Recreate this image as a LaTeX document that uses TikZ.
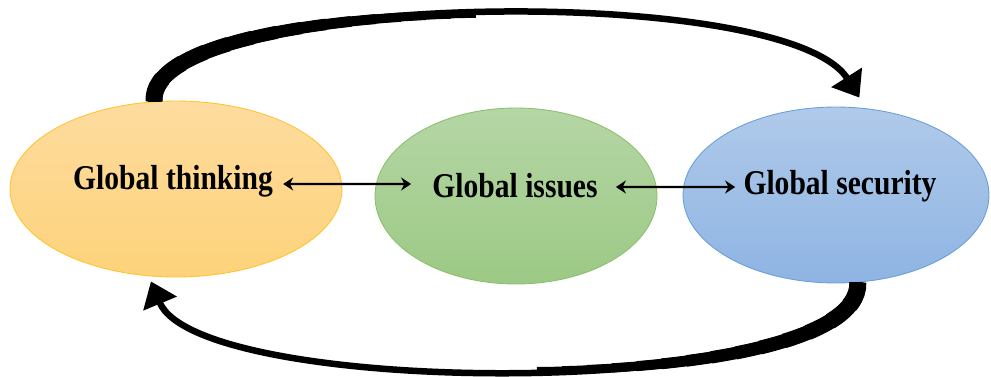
\documentclass[tikz,border=0pt]{standalone}
\usepackage{graphicx}
\usepackage{fontspec}
\setmainfont{Liberation Serif}
\usepackage{tikz}
\usetikzlibrary{shapes.geometric,arrows.meta}
\definecolor{orgtop}{HTML}{FEDC9F}
\definecolor{orgbot}{HTML}{FDD27A}
\definecolor{orgline}{HTML}{FFC533}
\definecolor{grntop}{HTML}{B5D6A5}
\definecolor{grnbot}{HTML}{9CC985}
\definecolor{grnline}{HTML}{8DBF6E}
\definecolor{blutop}{HTML}{B0CAEA}
\definecolor{blubot}{HTML}{8EB4E3}
\definecolor{bluline}{HTML}{6A9FD8}
\tikzstyle{blob} = [ellipse, draw, line width=0.5pt, minimum height=3.52cm]
\tikzstyle{lbl} = [inner sep=0pt, text height=13.1pt, text depth=0pt, font=\fontsize{19.8}{22}\selectfont\bfseries]
\tikzstyle{dbl} = [{Stealth[length=0.2cm,width=0.26cm]}-{Stealth[length=0.2cm,width=0.26cm]}, line width=0.045cm]
\tikzstyle{bigarrow} = [-{Triangle[length=0.48cm,width=0.7cm]}, line width=0.13cm]
\newcommand{\squeeze}[1]{\scalebox{0.85}[1]{#1}}

\begin{document}
\begin{tikzpicture}[x=0.02cm,y=-0.02cm]
  \useasboundingbox (0,0) rectangle (991,376);
  \node[blob, minimum width=6.64cm, draw=orgline, top color=orgtop, bottom color=orgbot] (E_think) at (176,189) {};
  \node[blob, minimum width=5.64cm, draw=grnline, top color=grntop, bottom color=grnbot] (E_iss) at (516,196) {};
  \node[blob, minimum width=6.12cm, draw=bluline, top color=blutop, bottom color=blubot] (E_sec) at (836,195) {};
  \node[lbl] (T_think) at (173,178) {\squeeze{Global thinking}};
  \node[lbl] (T_iss) at (515,186) {\squeeze{Global issues}};
  \node[lbl] (T_sec) at (840,183) {\squeeze{Global security}};

  \path ([xshift=0.2cm,yshift=-0.12cm]T_think.east) edge[dbl] ([xshift=-0.42cm,yshift=0.04cm]T_iss.west);
  \path ([xshift=0.36cm,yshift=-0.02cm]T_iss.east) edge[dbl] ([xshift=-0.16cm,yshift=-0.08cm]T_sec.west);

  % curved arrows, thick at the tail
  \draw[bigarrow] (E_think.104) .. controls (146,-8) and (785,-20) .. ([yshift=0.2cm]E_sec.75);
  \draw[bigarrow] (E_sec.284) .. controls (862,400) and (200,400) .. ([yshift=-0.1cm]E_think.254);
  \foreach \i in {0,...,13}
  {
    \pgfmathsetmacro{\w}{0.34-0.0155*\i}
    \pgfmathsetmacro{\l}{0.5*(\i+1)}
    \draw[line width=\w cm, dash pattern=on \l cm off 40cm] (E_think.104) .. controls (146,-8) and (785,-20) .. ([yshift=0.2cm]E_sec.75);
    \draw[line width=\w cm, dash pattern=on \l cm off 40cm] (E_sec.284) .. controls (862,400) and (200,400) .. ([yshift=-0.1cm]E_think.254);
  }
\end{tikzpicture}
\end{document}
